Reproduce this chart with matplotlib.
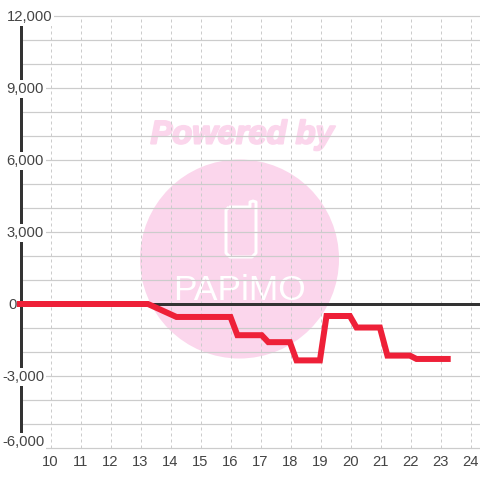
import matplotlib
matplotlib.use("Agg")
import matplotlib.pyplot as plt
from matplotlib.patches import Circle, PathPatch
from matplotlib.path import Path
from matplotlib.transforms import ScaledTranslation
import matplotlib.patheffects as pe

plt.rcParams['font.family'] = ['Liberation Sans', 'DejaVu Sans']

x_ticks = list(range(10, 25))
y_grid = list(range(-6000, 13000, 1000))
y_labeled = [-6000, -3000, 0, 3000, 6000, 9000, 12000]
y_label_text = ['-6,000', '-3,000', '0', '3,000', '6,000', '9,000', '12,000']
y_label_left_px = [2, 2, 8, 6.5, 6.5, 6.5, 6.5]
y_label_shift_px = [6, -1, -1, -1, -1, -1, -1]

series_x = [8.88, 13.25, 14.2, 16.0, 16.23, 17.04, 17.26, 17.98, 18.2, 18.98, 19.2,
            19.98, 20.2, 20.98, 21.23, 21.98, 22.2, 23.34]
series_y = [0, 0, -540, -540, -1300, -1300, -1590, -1590, -2350, -2350, -500,
            -500, -980, -980, -2150, -2150, -2290, -2290]

PINK = '#FBD6EC'
DARK = '#333333'
GRID = '#CCCCCC'
TEXT = '#444444'
px = 72 / 100

fig = plt.figure(figsize=(4.8, 4.8), dpi=100)
ax = fig.add_axes([0, 0, 1, 1])
ax.set_xlim(10 - 50.5 / 30, 10 + (480 - 50.5) / 30)
ax.set_ylim(-6000 - 32 / 24 * 1000, 12000 + 16 / 24 * 1000)
for s in ax.spines.values():
    s.set_visible(False)
ax.set_axisbelow(False)

# Watermark
T = ax.transAxes
def fx(p): return p / 480
def fy(p): return 1 - p / 480
ax.add_patch(Circle((fx(239.5), fy(259)), 99.5 / 480, transform=T, fc=PINK, ec='none', zorder=0))
ax.text(fx(242), fy(135), 'Powered by', transform=T, color=PINK, fontsize=23.5,
        fontweight='bold', fontstyle='italic', ha='center', va='center', zorder=0,
        path_effects=[pe.withStroke(linewidth=1.5, foreground=PINK)])
phone_pts = [(fx(229), fy(207)), (fx(250), fy(207)), (fx(250), fy(202)), (fx(253), fy(201)),
             (fx(256), fy(202)), (fx(256), fy(253)), (fx(252), fy(257)), (fx(230), fy(257)),
             (fx(226), fy(253)), (fx(226), fy(210)), (fx(229), fy(207))]
ax.add_patch(PathPatch(Path(phone_pts), transform=T, fc='none', ec='white', lw=3 * px,
                       joinstyle='round', zorder=0.5))
ax.text(fx(240), fy(290), 'PAPiMO', transform=T, color='white', fontsize=25.5,
        ha='center', va='center', zorder=0.5)

# Grid
ax.hlines(y_grid, 9, 30, color=GRID, lw=1.2 * px, zorder=1)
ax.vlines(x_ticks, -6000, 12000, color=GRID, lw=1 * px, linestyles=[(0, (3, 3))], zorder=1)

# Axis lines
ax.vlines(9, -6000, 12000, color=DARK, lw=3 * px, zorder=1.5)
ax.hlines(0, 9, 30, color=DARK, lw=3 * px, zorder=2)

# Series
ax.plot(series_x, series_y, color='#EE2038', lw=6 * px, solid_joinstyle='miter',
        solid_capstyle='butt', zorder=3)

# Ticks
ax.tick_params(length=0, pad=0, labelsize=10.6, labelcolor=TEXT)
ax.set_xticks(x_ticks)
ax.set_xticklabels([str(v) for v in x_ticks])
for lab in ax.get_xticklabels():
    lab.set_y((480 - 462) / 480)
    lab.set_va('center')
ax.set_yticks(y_labeled)
ax.set_yticklabels(y_label_text)
for lab, left, dy in zip(ax.get_yticklabels(), y_label_left_px, y_label_shift_px):
    lab.set_ha('left')
    lab.set_va('center')
    lab.set_x(left / 480)
    lab.set_bbox(dict(fc='white', ec='none', pad=1.5))
    lab.set_transform(lab.get_transform() + ScaledTranslation(0, dy / 100, fig.dpi_scale_trans))

fig.savefig('out.png', dpi=100)
